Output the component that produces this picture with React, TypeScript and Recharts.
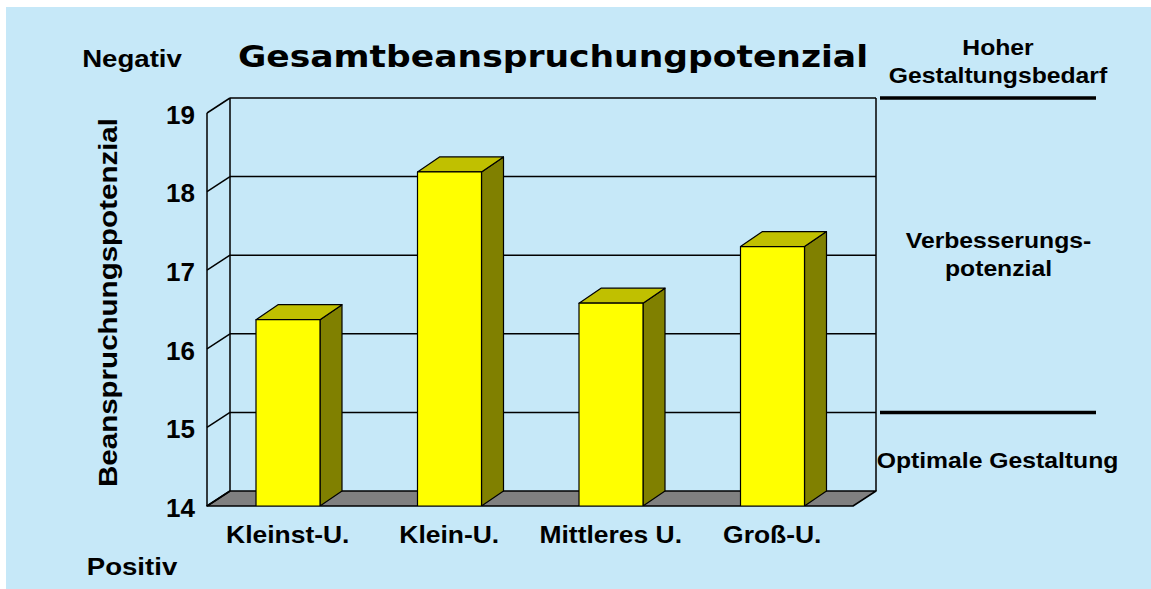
import React from 'react';
import {
  ComposedChart,
  Bar,
  XAxis,
  YAxis,
  CartesianGrid,
  ReferenceLine,
  Customized,
} from 'recharts';

// ---------- data ----------
const categories = ['Kleinst-U.', 'Klein-U.', 'Mittleres U.', 'Groß-U.'];
const values = [16.37, 18.25, 16.58, 17.3];
const yTicks = [14, 15, 16, 17, 18, 19];
const thresholds = [15, 19];
const titleText = 'Gesamtbeanspruchungpotenzial';
const yAxisTitle = 'Beanspruchungspotenzial';
const topLeftText = 'Negativ';
const bottomLeftText = 'Positiv';
const zoneHigh = ['Hoher', 'Gestaltungsbedarf'];
const zoneMid = ['Verbesserungs-', 'potenzial'];
const zoneLow = ['Optimale Gestaltung'];

const data = categories.map((name, i) => ({ name, value: values[i] }));

// ---------- layout / style ----------
const W = 1145;
const H = 582;
const DX = 23; // wall depth offset x
const DY = 15; // wall depth offset y
const BDX = 22; // bar depth x
const BDY = 15; // bar depth y
const FONT = '"Liberation Sans", Arial, Helvetica, sans-serif';
const SX = 1.15; // horizontal stretch of text in the original
const BG = '#C6E8F8';

const SText = ({ x, y, size, children, anchor = 'middle', sx = SX }: any) => (
  <text
    transform={`translate(${x},${y}) scale(${sx},1)`}
    textAnchor={anchor}
    fontFamily={FONT}
    fontWeight="bold"
    fontSize={size}
    fill="#000"
  >
    {children}
  </text>
);

const renderGridLine = (props: any) => {
  const { x1, x2, y1, index, horizontalPoints, y, height } = props;
  const pts: number[] =
    Array.isArray(horizontalPoints) && horizontalPoints.length
      ? horizontalPoints
      : [y, y + height];
  const top = Math.min(...pts);
  const bottom = Math.max(...pts);
  const isBottom = Math.abs(y1 - bottom) < 0.5;
  const s = { stroke: '#000', strokeWidth: 1.5 };
  return (
    <g key={`gl-${index}`}>
      {index === 0 && (
        <>
          <line x1={x1 + DX} y1={top - DY} x2={x1 + DX} y2={bottom - DY} {...s} />
          <line x1={x2 + DX} y1={top - DY} x2={x2 + DX} y2={bottom - DY} {...s} />
        </>
      )}
      {isBottom ? (
        <polygon
          points={`${x1},${y1} ${x2},${y1} ${x2 + DX},${y1 - DY} ${x1 + DX},${y1 - DY}`}
          fill="#808080"
          stroke="#000"
          strokeWidth={1.5}
          strokeLinejoin="round"
        />
      ) : (
        <line x1={x1 + DX} y1={y1 - DY} x2={x2 + DX} y2={y1 - DY} {...s} />
      )}
      <line x1={x1} y1={y1} x2={x1 + DX} y2={y1 - DY} {...s} />
    </g>
  );
};

const Bar3D = (props: any) => {
  const { x, y, width: w, height: h } = props;
  if (w == null || h == null) return null;
  const st = { stroke: '#000', strokeWidth: 1.2, strokeLinejoin: 'round' as const };
  return (
    <g>
      <polygon
        points={`${x + w},${y} ${x + w + BDX},${y - BDY} ${x + w + BDX},${y + h - BDY} ${x + w},${y + h}`}
        fill="#808000"
        {...st}
      />
      <polygon
        points={`${x},${y} ${x + BDX},${y - BDY} ${x + w + BDX},${y - BDY} ${x + w},${y}`}
        fill="#C0C000"
        {...st}
      />
      <rect x={x} y={y} width={w} height={h} fill="#FFFF00" {...st} />
    </g>
  );
};

const YTick = (props: any) => {
  const { x, y, payload } = props;
  return (
    <text
      x={x - 12}
      y={y + 10.8}
      textAnchor="end"
      fontFamily={FONT}
      fontWeight="bold"
      fontSize={26}
      fill="#000"
    >
      {payload.value}
    </text>
  );
};

const XTick = (props: any) => {
  const { x, y, payload } = props;
  return (
    <SText x={x} y={y + 37} size={23}>
      {payload.value}
    </SText>
  );
};

const renderThreshold = (props: any) => {
  const { x2, y1 } = props;
  if (x2 == null || y1 == null) return null;
  return (
    <line
      x1={x2 + DX + 4}
      y1={y1 - DY}
      x2={x2 + DX + 220}
      y2={y1 - DY}
      stroke="#000"
      strokeWidth={3.5}
    />
  );
};

const Annotations = () => (
  <g>
    <text
      x={232}
      y={60}
      fontFamily='"DejaVu Sans", sans-serif'
      fontWeight="bold"
      fontSize={30}
      textLength={630}
      lengthAdjust="spacingAndGlyphs"
      fill="#000"
    >
      {titleText}
    </text>
    <SText x={126} y={60} size={24}>{topLeftText}</SText>
    <SText x={126} y={568} size={24}>{bottomLeftText}</SText>
    <SText x={992} y={48} size={21.5}>{zoneHigh[0]}</SText>
    <SText x={992} y={75.7} size={21.5}>{zoneHigh[1]}</SText>
    <SText x={992.5} y={240.5} size={21.5}>{zoneMid[0]}</SText>
    <SText x={992.5} y={268.5} size={21.5}>{zoneMid[1]}</SText>
    <SText x={991.5} y={461} size={21.5}>{zoneLow[0]}</SText>
    <text
      transform="translate(111,295.5) rotate(-90)"
      textAnchor="middle"
      fontFamily={FONT}
      fontWeight="bold"
      fontSize={25}
      textLength={369}
      lengthAdjust="spacingAndGlyphs"
      fill="#000"
    >
      {yAxisTitle}
    </text>
  </g>
);

export default function App() {
  return (
    <div
      style={{
        position: 'absolute',
        left: 6,
        top: 7,
        width: W,
        height: H,
        background: BG,
      }}
    >
      <ComposedChart
        width={W}
        height={H}
        data={data}
        margin={{ top: 106, right: 298, bottom: 23, left: 141 }}
        barSize={64}
      >
        <CartesianGrid horizontal={renderGridLine} vertical={false} />
        <XAxis
          dataKey="name"
          axisLine={false}
          tickLine={false}
          tickSize={0}
          tickMargin={0}
          height={60}
          tick={<XTick />}
          interval={0}
        />
        <YAxis
          domain={[14, 19]}
          ticks={yTicks}
          width={60}
          axisLine={{ stroke: '#000', strokeWidth: 1.5 }}
          tickLine={false}
          tickSize={0}
          tickMargin={0}
          tick={<YTick />}
          allowDataOverflow
        />
        {thresholds.map((t) => (
          <ReferenceLine key={t} y={t} shape={renderThreshold} ifOverflow="visible" />
        ))}
        <Bar dataKey="value" shape={<Bar3D />} isAnimationActive={false} />
        <Customized component={Annotations} />
      </ComposedChart>
    </div>
  );
}
